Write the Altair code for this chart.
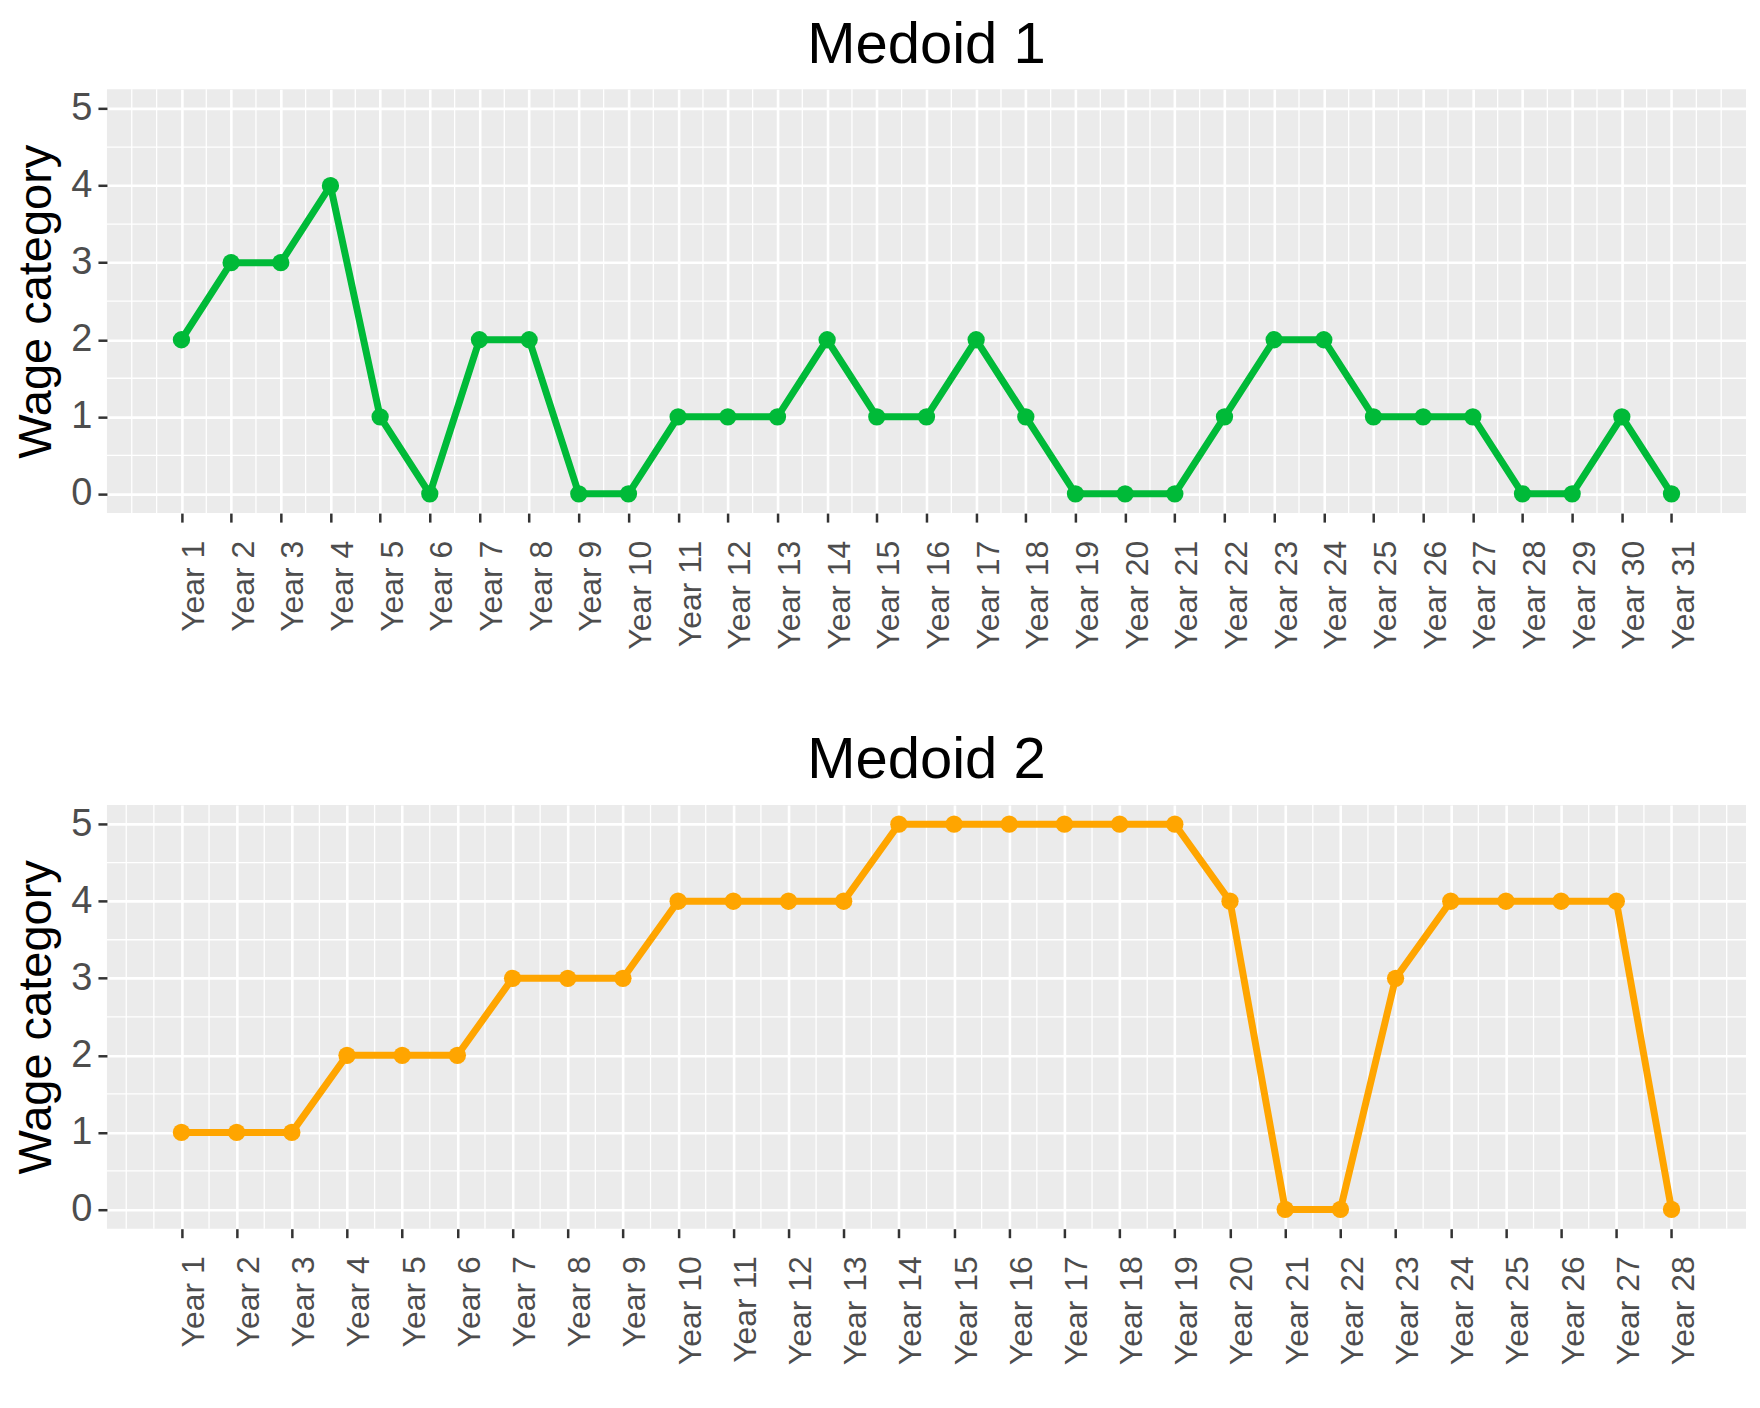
import altair as alt
import pandas as pd

# ---- data ----
years_1 = list(range(1, 32))
medoid_1 = [2, 3, 3, 4, 1, 0, 2, 2, 0, 0, 1, 1, 1, 2, 1, 1, 2, 1, 0, 0, 0,
            1, 2, 2, 1, 1, 1, 0, 0, 1, 0]
years_2 = list(range(1, 29))
medoid_2 = [1, 1, 1, 2, 2, 2, 3, 3, 3, 4, 4, 4, 4, 5, 5, 5, 5, 5, 5, 4, 0,
            0, 3, 4, 4, 4, 4, 0]
y_ticks = [0, 1, 2, 3, 4, 5]
y_minor = [0.5, 1.5, 2.5, 3.5, 4.5]

FONT = "Liberation Sans"
PANEL_W = 1640
PANEL_H = 424


def panel(years, values, color, title):
    n = len(years)
    exp = (n - 1) * 0.05
    x_dom = [1 - exp, n + exp]
    x_minor = [0] + [y - 0.5 for y in years] + [n + 0.5, n + 1]
    xs = alt.Scale(domain=x_dom, nice=False, zero=False)
    ys = alt.Scale(domain=[-0.25, 5.25], nice=False, zero=False)

    df = pd.DataFrame({"year": years, "value": values})
    xaxis = alt.Axis(
        values=years, labelExpr="'Year ' + datum.value", title=None,
        labelAngle=270, labelAlign="right", labelBaseline="middle",
        labelOffset=12, labelPadding=18, labelFontSize=32, labelColor="#4D4D4D",
        labelFont=FONT, labelOverlap=False, labelBound=False, labelFlush=False,
        tickColor="#333333", tickWidth=2.5, tickSize=9, domain=False,
        grid=True, gridColor="white", gridWidth=2.6,
    )
    yaxis = alt.Axis(
        values=y_ticks, title="Wage category", titleFontSize=47, titleFont=FONT,
        titleFontWeight="normal", titleColor="black", titlePadding=10,
        labelFontSize=38, labelColor="#4D4D4D", labelFont=FONT, labelPadding=6,
        tickColor="#333333", tickWidth=2.5, tickSize=9, domain=False,
        grid=True, gridColor="white", gridWidth=2.6,
    )

    minor_x = alt.Chart(pd.DataFrame({"gx": x_minor})).mark_rule(
        color="white", strokeWidth=1.3
    ).encode(x=alt.X("gx:Q", scale=xs, axis=xaxis))
    minor_y = alt.Chart(pd.DataFrame({"gy": y_minor})).mark_rule(
        color="white", strokeWidth=1.3
    ).encode(y=alt.Y("gy:Q", scale=ys, axis=yaxis))

    base = alt.Chart(df).encode(
        x=alt.X("year:Q", scale=xs, axis=xaxis),
        y=alt.Y("value:Q", scale=ys, axis=yaxis),
    )
    line = base.mark_line(color=color, strokeWidth=7)
    pts = base.mark_circle(color=color, size=300, opacity=1)

    return alt.layer(minor_x, minor_y, line, pts).properties(
        width=PANEL_W, height=PANEL_H,
        title=alt.TitleParams(
            text=title, fontSize=58, font=FONT, fontWeight="normal",
            color="black", anchor="middle", frame="group", offset=14,
        ),
    )


top = panel(years_1, medoid_1, "#00BA38", "Medoid 1")
bottom = panel(years_2, medoid_2, "#FFA500", "Medoid 2")

chart = alt.vconcat(top, bottom, spacing=82).properties(
    padding={"left": 4, "top": 8, "right": 5, "bottom": 5}
).configure(
    background="white",
    view=alt.ViewConfig(fill="#EBEBEB", strokeWidth=0, stroke="transparent"),
)

chart.save("out.html", embed_options={"renderer": "svg", "actions": False})
